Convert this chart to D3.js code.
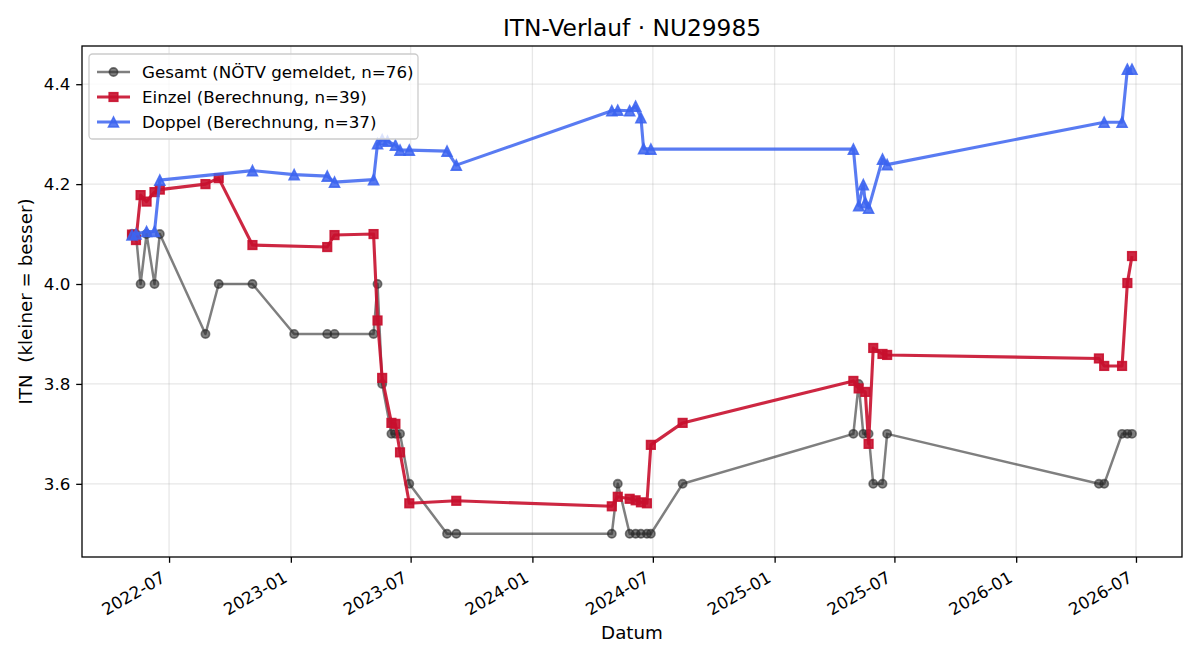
<!DOCTYPE html>
<html>
<head>
<meta charset="utf-8">
<script src="https://cdn.jsdelivr.net/npm/d3@7"></script>
<style>
  html, body { margin: 0; padding: 0; background: #fff; }
  svg { display: block; font-family: "DejaVu Sans", sans-serif; }
  text { white-space: pre; }
</style>
</head>
<body>
<svg id="chart" width="1200" height="660"></svg>
<script>
// ---------- data ----------
const gesamtDates = ["2022-05-06","2022-05-12","2022-05-19","2022-05-28","2022-06-09","2022-06-17","2022-08-25","2022-09-14","2022-11-04","2023-01-06","2023-02-25","2023-03-08","2023-05-06","2023-05-12","2023-05-19","2023-06-02","2023-06-08","2023-06-15","2023-06-29","2023-08-25","2023-09-08","2024-04-30","2024-05-09","2024-05-27","2024-06-05","2024-06-13","2024-06-22","2024-06-28","2024-08-15","2025-04-30","2025-05-08","2025-05-15","2025-05-23","2025-05-30","2025-06-13","2025-06-20","2026-05-06","2026-05-14","2026-06-10","2026-06-18","2026-06-25"];
const gesamtValues = [4.1,4.1,4.0,4.1,4.0,4.1,3.9,4.0,4.0,3.9,3.9,3.9,3.9,4.0,3.8,3.7,3.7,3.7,3.6,3.5,3.5,3.5,3.6,3.5,3.5,3.5,3.5,3.5,3.6,3.7,3.8,3.7,3.7,3.6,3.6,3.7,3.6,3.6,3.7,3.7,3.7];

const einzelDates = ["2022-05-06","2022-05-12","2022-05-19","2022-05-28","2022-06-09","2022-06-17","2022-08-25","2022-09-14","2022-11-04","2023-02-25","2023-03-08","2023-05-06","2023-05-12","2023-05-19","2023-06-02","2023-06-08","2023-06-15","2023-06-29","2023-09-08","2024-04-30","2024-05-09","2024-05-27","2024-06-05","2024-06-13","2024-06-22","2024-06-28","2024-08-15","2025-04-30","2025-05-08","2025-05-18","2025-05-23","2025-05-30","2025-06-13","2025-06-20","2026-05-06","2026-05-14","2026-06-10","2026-06-18","2026-06-25"];
const einzelValues = [4.099,4.088,4.178,4.165,4.184,4.189,4.200,4.212,4.078,4.074,4.098,4.100,3.927,3.812,3.722,3.720,3.663,3.561,3.566,3.555,3.574,3.570,3.567,3.563,3.561,3.678,3.722,3.806,3.791,3.784,3.680,3.872,3.860,3.858,3.851,3.836,3.836,4.002,4.056];

const doppelDates = ["2022-05-06","2022-05-12","2022-05-28","2022-06-09","2022-06-17","2022-11-04","2023-01-06","2023-02-25","2023-03-08","2023-05-06","2023-05-12","2023-05-19","2023-05-27","2023-06-08","2023-06-15","2023-06-29","2023-08-25","2023-09-08","2024-04-30","2024-05-09","2024-05-27","2024-06-05","2024-06-13","2024-06-17","2024-06-28","2025-04-30","2025-05-08","2025-05-15","2025-05-18","2025-05-23","2025-06-13","2025-06-20","2026-05-14","2026-06-10","2026-06-18","2026-06-25"];
const doppelValues = [4.098,4.100,4.105,4.105,4.208,4.227,4.219,4.216,4.204,4.209,4.281,4.289,4.286,4.278,4.268,4.268,4.266,4.238,4.347,4.348,4.347,4.356,4.333,4.271,4.270,4.270,4.157,4.199,4.163,4.152,4.250,4.239,4.324,4.324,4.430,4.430];

const seriesNames = ["Gesamt (NÖTV gemeldet, n=76)", "Einzel (Berechnung, n=39)", "Doppel (Berechnung, n=37)"];
const yTickValues = [3.6, 3.8, 4.0, 4.2, 4.4];
const titleText = "ITN-Verlauf · NU29985";
const xLabelText = "Datum";
const yLabelText = "ITN  (kleiner = besser)";

// ---------- setup ----------
const parse = d3.timeParse("%Y-%m-%d");
const mk = (ds, vs) => ds.map((d, i) => ({ date: parse(d), value: vs[i] }));
const series = [
  { name: seriesNames[0], data: mk(gesamtDates, gesamtValues), color: "#2a2a2a", alpha: 0.6, lw: 2.5, marker: "circle" },
  { name: seriesNames[1], data: mk(einzelDates, einzelValues), color: "#c8102e", alpha: 0.9, lw: 3.1, marker: "square" },
  { name: seriesNames[2], data: mk(doppelDates, doppelValues), color: "#3c64f0", alpha: 0.85, lw: 3.1, marker: "triangle" }
];

const L = 82, R = 1182, T = 46, B = 557;
const FS = 16.7, LFS = 18.3;
const all = series.flatMap(s => s.data);
const [dMin, dMax] = d3.extent(all, d => d.date);
const span = dMax - dMin;
const x = d3.scaleTime()
  .domain([new Date(+dMin - span * 0.05), new Date(+dMax + span * 0.05)])
  .range([L, R]);
const [vMin, vMax] = d3.extent(all, d => d.value);
const vs = vMax - vMin;
const y = d3.scaleLinear()
  .domain([vMin - vs * 0.05, vMax + vs * 0.05])
  .range([B, T]);

const svg = d3.select("#chart");
svg.append("rect").attr("width", 1200).attr("height", 660).attr("fill", "#fff");

// grid
const xTicks = x.ticks(d3.timeMonth.every(6));
const g = svg.append("g");
g.selectAll("line.gx").data(xTicks).join("line")
  .attr("x1", d => x(d)).attr("x2", d => x(d)).attr("y1", T).attr("y2", B)
  .attr("stroke", "#b0b0b0").attr("stroke-opacity", 0.3).attr("stroke-width", 1.3);
g.selectAll("line.gy").data(yTickValues).join("line")
  .attr("x1", L).attr("x2", R).attr("y1", d => y(d)).attr("y2", d => y(d))
  .attr("stroke", "#b0b0b0").attr("stroke-opacity", 0.3).attr("stroke-width", 1.3);

// marker drawing
function drawMarker(sel, type, size) {
  if (type === "circle") {
    sel.append("circle").attr("r", size / 2);
  } else if (type === "square") {
    sel.append("rect").attr("x", -size / 2).attr("y", -size / 2).attr("width", size).attr("height", size);
  } else {
    const h = size / 2;
    sel.append("path").attr("d", `M0,${-h}L${-h},${h}L${h},${h}Z`);
  }
}
const markerSize = { circle: 8.3, square: 8.6, triangle: 10 };

// lines + markers
const line = d3.line().x(d => x(d.date)).y(d => y(d.value));
const plot = svg.append("g");
series.forEach(s => {
  plot.append("path").datum(s.data).attr("d", line)
    .attr("fill", "none").attr("stroke", s.color).attr("stroke-opacity", s.alpha)
    .attr("stroke-width", s.lw).attr("stroke-linejoin", "round").attr("stroke-linecap", "butt");
  const mg = plot.append("g");
  s.data.forEach(d => {
    const m = mg.append("g").attr("transform", `translate(${x(d.date)},${y(d.value)})`);
    drawMarker(m, s.marker, markerSize[s.marker]);
    m.selectAll("*").attr("fill", s.color).attr("fill-opacity", s.alpha)
      .attr("stroke", s.color).attr("stroke-opacity", s.alpha).attr("stroke-width", 1.6);
  });
});

// axes frame
svg.append("rect").attr("x", L).attr("y", T).attr("width", R - L).attr("height", B - T)
  .attr("fill", "none").attr("stroke", "#000").attr("stroke-width", 1.3);

// x axis
const xa = svg.append("g").attr("transform", `translate(0,${B})`)
  .call(d3.axisBottom(x).tickValues(xTicks).tickFormat(d3.timeFormat("%Y-%m")).tickSize(5.8).tickPadding(6));
xa.select(".domain").remove();
xa.selectAll(".tick line").attr("stroke", "#000").attr("stroke-width", 1.3);
xa.selectAll(".tick text")
  .attr("font-size", FS).attr("fill", "#000").attr("font-family", "DejaVu Sans")
  .attr("text-anchor", "end").attr("dy", null).attr("y", null)
  .attr("transform", "translate(-3,24) rotate(-30)");

// y axis
const ya = svg.append("g").attr("transform", `translate(${L},0)`)
  .call(d3.axisLeft(y).tickValues(yTickValues).tickFormat(d3.format(".1f")).tickSize(5.8).tickPadding(5.8));
ya.select(".domain").remove();
ya.selectAll(".tick line").attr("stroke", "#000").attr("stroke-width", 1.3);
ya.selectAll(".tick text").attr("font-size", FS).attr("fill", "#000").attr("font-family", "DejaVu Sans");

// labels
svg.append("text").attr("x", (L + R) / 2).attr("y", 36).attr("text-anchor", "middle")
  .attr("font-size", 23.3).attr("fill", "#000").text(titleText);
svg.append("text").attr("x", (L + R) / 2).attr("y", 639).attr("text-anchor", "middle")
  .attr("font-size", LFS).attr("fill", "#000").text(xLabelText);
svg.append("text").attr("transform", `translate(32,${(T + B) / 2}) rotate(-90)`).attr("text-anchor", "middle")
  .attr("xml:space", "preserve")
  .attr("font-size", LFS).attr("fill", "#000").text(yLabelText);

// legend
const lg = svg.append("g");
lg.append("rect").attr("x", 89).attr("y", 54).attr("width", 329).attr("height", 85).attr("rx", 3.5)
  .attr("fill", "#fff").attr("fill-opacity", 0.8).attr("stroke", "#cccccc").attr("stroke-width", 1.3);
series.forEach((s, i) => {
  const cy = 72 + i * 25;
  lg.append("line").attr("x1", 97).attr("x2", 130).attr("y1", cy).attr("y2", cy)
    .attr("stroke", s.color).attr("stroke-opacity", s.alpha).attr("stroke-width", s.lw);
  const m = lg.append("g").attr("transform", `translate(113.5,${cy})`);
  drawMarker(m, s.marker, markerSize[s.marker]);
  m.selectAll("*").attr("fill", s.color).attr("fill-opacity", s.alpha)
    .attr("stroke", s.color).attr("stroke-opacity", s.alpha).attr("stroke-width", 1.6);
  lg.append("text").attr("x", 142).attr("y", cy + 6).attr("font-size", FS).attr("fill", "#000").text(s.name);
});
</script>
</body>
</html>
